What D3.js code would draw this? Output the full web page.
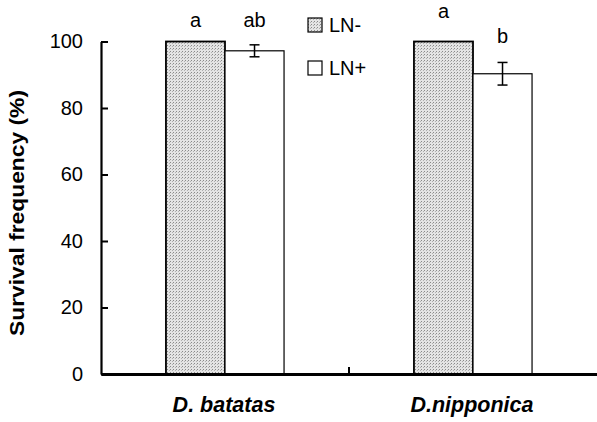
<!DOCTYPE html>
<html>
<head>
<meta charset="utf-8">
<script src="https://cdn.jsdelivr.net/npm/d3@7"></script>
<style>
  html, body { margin: 0; padding: 0; background: #fff; }
  svg { display: block; font-family: "Liberation Sans", Arial, sans-serif; }
</style>
</head>
<body>
<svg id="chart" width="597" height="422"></svg>
<script>
// 数据
const species = ['D. batatas', 'D.nipponica'];
const treatments = ['LN-', 'LN+'];
const survivalLNminus = [100, 100];
const survivalLNplus = [97.2, 90.3];
const errLNminus = [0, 0];
const errLNplus = [1.8, 3.4];
const lettersLNminus = ['a', 'a'];
const lettersLNplus = ['ab', 'b'];
// 字母所在高度(按y值读取)
const letterLevelLNminus = [104.4, 107.2];
const letterLevelLNplus = [104.4, 99.6];
const yTicks = [0, 20, 40, 60, 80, 100];

const svg = d3.select('#chart');
const width = 597;

// 比例尺
const x0 = d3.scaleBand().domain(species).range([101, width]).paddingInner(0).paddingOuter(0);
const x1 = d3.scaleBand().domain(treatments).range([0, x0.bandwidth()]).paddingInner(0).paddingOuter(1.1);
const y = d3.scaleLinear().domain([0, 100]).range([374, 41.5]);

// 点状填充图案
const defs = svg.append('defs');
const pat = defs.append('pattern')
  .attr('id', 'stipple')
  .attr('patternUnits', 'userSpaceOnUse')
  .attr('width', 3)
  .attr('height', 3);
pat.append('rect').attr('width', 3).attr('height', 3).attr('fill', '#e4e4e4');
pat.append('rect').attr('x', 0).attr('y', 0).attr('width', 1).attr('height', 1).attr('fill', '#8a8a8a');
pat.append('rect').attr('x', 2).attr('y', 1).attr('width', 1).attr('height', 1).attr('fill', '#b0b0b0');

const rows = species.map((s, i) => ({
  species: s,
  bars: [
    { t: 'LN-', v: survivalLNminus[i], e: errLNminus[i], letter: lettersLNminus[i], ly: letterLevelLNminus[i] },
    { t: 'LN+', v: survivalLNplus[i], e: errLNplus[i], letter: lettersLNplus[i], ly: letterLevelLNplus[i] }
  ]
}));

const groups = svg.append('g').selectAll('g.group')
  .data(rows)
  .join('g')
  .attr('class', 'group')
  .attr('transform', d => `translate(${x0(d.species)},0)`);

// 柱子
groups.selectAll('rect.bar')
  .data(d => d.bars)
  .join('rect')
  .attr('class', 'bar')
  .attr('x', d => x1(d.t))
  .attr('y', d => y(d.v))
  .attr('width', x1.bandwidth())
  .attr('height', d => y(0) - y(d.v))
  .attr('fill', d => d.t === 'LN-' ? 'url(#stipple)' : '#fff')
  .attr('stroke', '#000')
  .attr('stroke-width', d => d.t === 'LN-' ? 1.8 : 1.2);

// 误差线
const eb = groups.selectAll('g.err')
  .data(d => d.bars.filter(b => b.e > 0))
  .join('g')
  .attr('class', 'err')
  .attr('stroke', '#000')
  .attr('stroke-width', 1.5);
eb.append('line')
  .attr('x1', d => x1(d.t) + x1.bandwidth() / 2)
  .attr('x2', d => x1(d.t) + x1.bandwidth() / 2)
  .attr('y1', d => y(d.v + d.e))
  .attr('y2', d => y(d.v - d.e));
[1, -1].forEach(sgn => {
  eb.append('line')
    .attr('x1', d => x1(d.t) + x1.bandwidth() / 2 - 5)
    .attr('x2', d => x1(d.t) + x1.bandwidth() / 2 + 5)
    .attr('y1', d => y(d.v + sgn * d.e))
    .attr('y2', d => y(d.v + sgn * d.e));
});

// 显著性字母
groups.selectAll('text.letter')
  .data(d => d.bars)
  .join('text')
  .attr('class', 'letter')
  .attr('x', d => x1(d.t) + x1.bandwidth() / 2)
  .attr('y', d => y(d.ly))
  .attr('text-anchor', 'middle')
  .attr('font-size', 20)
  .text(d => d.letter);

// Y轴
const yAxis = svg.append('g')
  .attr('transform', 'translate(101,0)')
  .call(d3.axisLeft(y).tickValues(yTicks).tickSizeInner(-7).tickSizeOuter(0).tickPadding(18));
yAxis.select('.domain').attr('stroke-width', 2.2);
yAxis.selectAll('.tick line').attr('stroke-width', 2);
yAxis.selectAll('.tick text')
  .attr('font-size', 20)
  .attr('fill', '#000')
  .attr('font-family', '"Liberation Sans", Arial, sans-serif');

// X轴
const xAxis = svg.append('g')
  .attr('transform', `translate(0,${y(0)})`)
  .call(d3.axisBottom(x0).tickSize(0).tickFormat(''));
xAxis.select('.domain').attr('stroke-width', 3);
xAxis.selectAll('.tick').remove();
// 组间分隔刻度
xAxis.selectAll('line.sep')
  .data(species.slice(1))
  .join('line')
  .attr('class', 'sep')
  .attr('x1', d => x0(d))
  .attr('x2', d => x0(d))
  .attr('y1', 0)
  .attr('y2', -7)
  .attr('stroke', '#000')
  .attr('stroke-width', 2);

// X类别标签
svg.append('g').selectAll('text')
  .data(species)
  .join('text')
  .attr('x', d => x0(d) + x0.bandwidth() / 2 - 1)
  .attr('y', 412)
  .attr('text-anchor', 'middle')
  .attr('font-size', 21.5)
  .attr('font-weight', 'bold')
  .attr('font-style', 'italic')
  .text(d => d);

// Y轴标题
svg.append('text')
  .attr('transform', `translate(24,213) rotate(-90)`)
  .attr('text-anchor', 'middle')
  .attr('font-size', 20)
  .attr('font-weight', 'bold')
  .attr('textLength', 246)
  .attr('lengthAdjust', 'spacingAndGlyphs')
  .text('Survival frequency (%)');

// 图例
const legend = svg.append('g').attr('transform', 'translate(308,18)');
const li = legend.selectAll('g')
  .data(treatments)
  .join('g')
  .attr('transform', (d, i) => `translate(0,${i * 43})`);
li.append('rect')
  .attr('width', 14)
  .attr('height', 14)
  .attr('fill', d => d === 'LN-' ? 'url(#stipple)' : '#fff')
  .attr('stroke', '#000')
  .attr('stroke-width', 1.2);
li.append('text')
  .attr('x', 21)
  .attr('y', 13.5)
  .attr('font-size', 20)
  .text(d => d);
</script>
</body>
</html>
